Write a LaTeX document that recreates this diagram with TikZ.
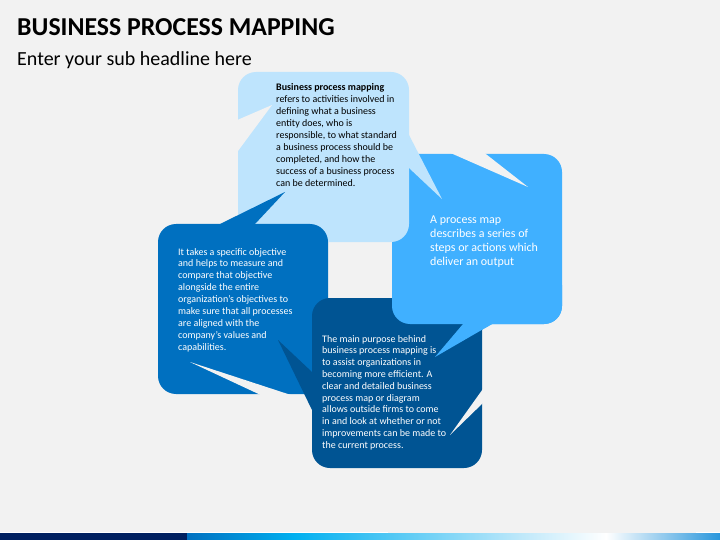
\documentclass[tikz,border=0pt]{standalone}
\usepackage{fontspec}
\setmainfont{Carlito}
\definecolor{bg}{RGB}{242,242,242}
\definecolor{cA}{RGB}{190,228,253}
\definecolor{cB}{RGB}{64,176,255}
\definecolor{cC}{RGB}{0,112,192}
\definecolor{cD}{RGB}{0,84,147}
\definecolor{navy}{RGB}{0,32,96}
\definecolor{cyanb}{RGB}{0,176,240}
\definecolor{paleb}{RGB}{190,232,250}
\definecolor{endb}{RGB}{40,150,220}
\begin{document}
\begin{tikzpicture}[x=1pt,y=-1pt,
  card/.style={rounded corners=18pt},
  txt/.style={anchor=base west, inner sep=0pt, align=left},
  wtxt/.style={txt, text=white}]
\fill[bg] (0,0) rectangle (720,540);
\useasboundingbox (0,0) rectangle (720,540);
% shape 2 (medium blue)
\fill[cB, card] (392,154) rectangle (562,324);
\fill[cB] (463,318) -- (463,324) -- (435,357) -- (492,324) -- (492,318) -- cycle;
\fill[bg] (446,151) -- (528,187) -- (482,151) -- cycle;
% shape 1 (light blue)
\fill[cA, card] (238,72) rectangle (409,242);
\fill[cA] (403,135) -- (409,135) -- (442,199) -- (409,168) -- (403,168) -- cycle;
\fill[bg] (235,121) -- (272,105) -- (235,155) -- cycle;
% shape 3 (blue)
\fill[cC, card] (158,224) rectangle (328,394);
\fill[cC] (220,230) -- (220,224) -- (285,192) -- (255,224) -- (255,230) -- cycle;
\fill[bg] (190,362) -- (265,397) -- (297,397) -- cycle;
% shape 4 (dark blue)
\fill[cD, card] (312,298) rectangle (482,468);
\fill[cD] (318,372) -- (312,372) -- (278,340) -- (312,410) -- (318,410) -- cycle;
\fill[bg] (485,386) -- (450,435) -- (485,401) -- cycle;
% shape 2 again, over shape 4
\begin{scope}
\clip (385,285) rectangle (570,370);
\fill[cB, card] (392,154) rectangle (562,324);
\fill[cB] (463,318) -- (463,324) -- (435,357) -- (492,324) -- (492,318) -- cycle;
\end{scope}
% bottom bar
\fill[navy] (0,533) rectangle (187.5,540);
\shade[left color=cC, right color=cyanb] (187,533) rectangle (294.5,540);
\shade[left color=cyanb, right color=paleb] (294,533) rectangle (520.5,540);
\shade[left color=paleb, right color=white] (520,533) rectangle (606.5,540);
\shade[left color=white, right color=endb] (606,533) rectangle (720,540);
\draw[white, line width=0.8pt] (0,532) -- (388,532);
\draw[white, line width=0.8pt] (696,532) -- (720,532);
% titles
\node[txt, font=\fontsize{25.8}{30}\selectfont\bfseries] (title) at (17,36) {BUSINESS PROCESS MAPPING};
\node[txt, font=\fontsize{20}{24}\selectfont] (sub) at (17,66) {Enter your sub headline here};
% texts
\node[txt, font=\fontsize{10}{12}\selectfont] (t1) at (276,91) {\begin{tabular}[t]{@{}l@{}}\textbf{Business process mapping}\\refers to activities involved in\\defining what a business\\entity does, who is\\responsible, to what standard\\a business process should be\\completed, and how the\\success of a business process\\can be determined.\end{tabular}};
\node[wtxt, font=\fontsize{12}{14.3}\selectfont] (t2) at (430,223) {\begin{tabular}[t]{@{}l@{}}A process map\\describes a series of\\steps or actions which\\deliver an output\end{tabular}};
\node[wtxt, font=\fontsize{10}{11.9}\selectfont] (t3) at (178,255) {\begin{tabular}[t]{@{}l@{}}It takes a specific objective\\and helps to measure and\\compare that objective\\alongside the entire\\organization’s objectives to\\make sure that all processes\\are aligned with the\\company’s values and\\capabilities.\end{tabular}};
\node[wtxt, font=\fontsize{10}{11.8}\selectfont] (t4) at (322,342) {\begin{tabular}[t]{@{}l@{}}The main purpose behind\\business process mapping is\\to assist organizations in\\becoming more efficient. A\\clear and detailed business\\process map or diagram\\allows outside firms to come\\in and look at whether or not\\improvements can be made to\\the current process.\end{tabular}};
\end{tikzpicture}
\end{document}
